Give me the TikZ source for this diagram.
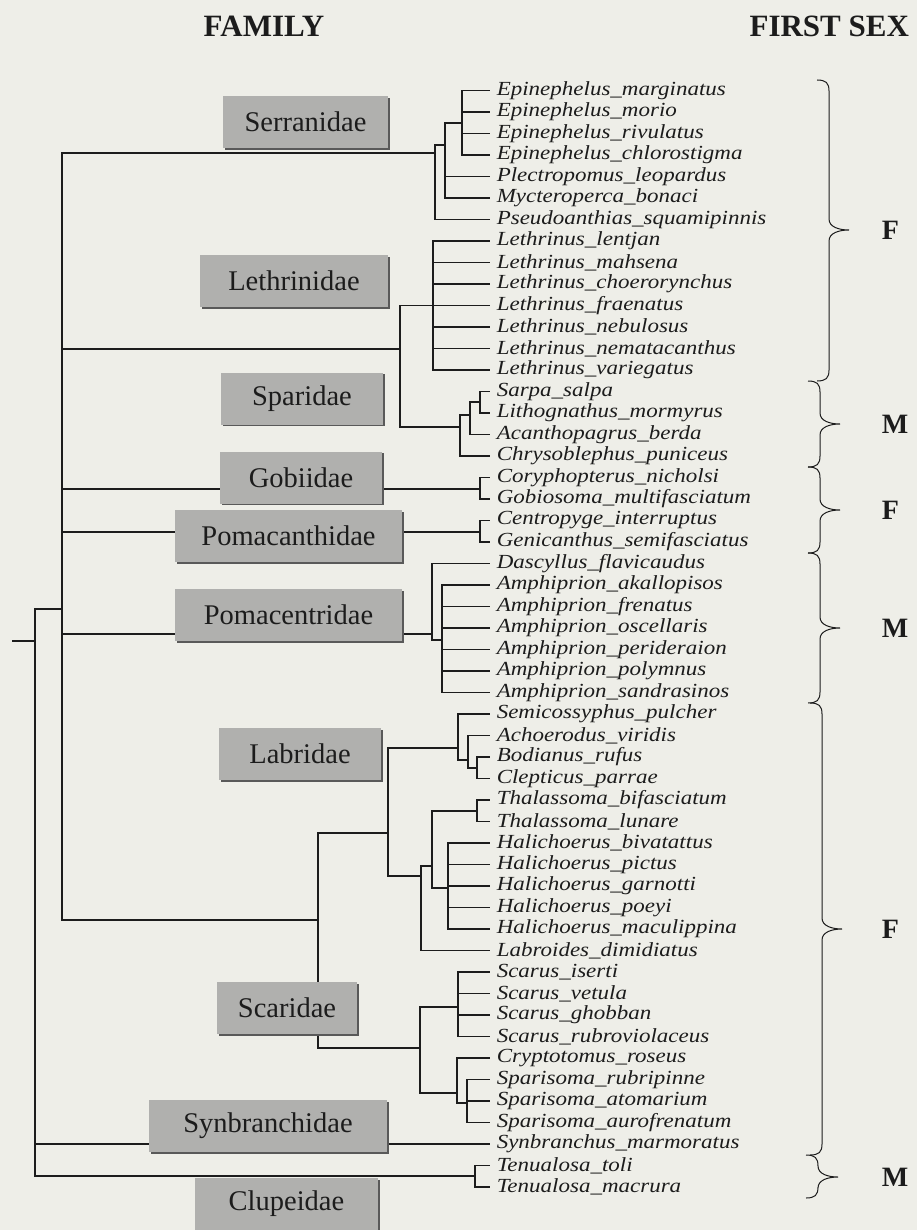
\documentclass[tikz,border=0pt]{standalone}
\usepackage{fontspec}
\setmainfont{Liberation Serif}
\newfontfamily\leaffont[FakeStretch=1.15]{Liberation Serif}
\usepackage{tikz}
\usetikzlibrary{shadows}

\definecolor{paper}{RGB}{238,238,232}
\definecolor{boxgray}{RGB}{176,176,174}
\definecolor{ink}{RGB}{28,28,28}

%% curly brace: top y, tip y, bottom y, x of the long stroke
\newcommand{\SexBrace}[4]{%
  \draw[brace] (#4-12, #1) .. controls (#4-3, #1) and (#4, #1+3) .. (#4, #1+11)
    -- (#4, #2-11) .. controls (#4, #2-3) and (#4+10, #2) .. (#4+20, #2)
    .. controls (#4+10, #2) and (#4, #2+3) .. (#4, #2+11)
    -- (#4, #3-11) .. controls (#4, #3-3) and (#4-3, #3) .. (#4-12, #3);}

\begin{document}
\begin{tikzpicture}[x=1pt, y=-1pt, line width=1.5pt, ink,
  leaf/.style={anchor=west, inner xsep=6pt, inner ysep=0pt,
    font=\leaffont\itshape\fontsize{20}{20}\selectfont},
  fam/.style={fill=boxgray, minimum height=52pt, inner sep=0pt,
    font=\fontsize{28.5}{30}\selectfont,
    drop shadow={shadow xshift=1.6pt, shadow yshift=-1.6pt, fill=black!65, opacity=1}},
  head/.style={font=\bfseries\fontsize{31}{31}\selectfont},
  sexlabel/.style={anchor=west, inner sep=0pt, font=\bfseries\fontsize{28}{28}\selectfont},
  brace/.style={line width=1pt}]

  \fill[paper] (0,0) rectangle (917,1230);
  \useasboundingbox (0,0) rectangle (917,1230);

  \newcommand\LX{490}
  \newcommand\DY{21.5}

  %% species, top to bottom
  \foreach \name/\txt [count=\i from 0] in {
    mar/Epinephelus\_marginatus, mor/Epinephelus\_morio, riv/Epinephelus\_rivulatus,
    chl/Epinephelus\_chlorostigma, ple/Plectropomus\_leopardus, myc/Mycteroperca\_bonaci,
    pse/Pseudoanthias\_squamipinnis, len/Lethrinus\_lentjan, mah/Lethrinus\_mahsena,
    cho/Lethrinus\_choerorynchus, fra/Lethrinus\_fraenatus, neb/Lethrinus\_nebulosus,
    nem/Lethrinus\_nematacanthus, var/Lethrinus\_variegatus, sar/Sarpa\_salpa,
    lit/Lithognathus\_mormyrus, aca/Acanthopagrus\_berda, chr/Chrysoblephus\_puniceus,
    cor/Coryphopterus\_nicholsi, gob/Gobiosoma\_multifasciatum, cen/Centropyge\_interruptus,
    gen/Genicanthus\_semifasciatus, das/Dascyllus\_flavicaudus, aka/Amphiprion\_akallopisos,
    fre/Amphiprion\_frenatus, osc/Amphiprion\_oscellaris, per/Amphiprion\_perideraion,
    pol/Amphiprion\_polymnus, san/Amphiprion\_sandrasinos, sem/Semicossyphus\_pulcher,
    ach/Achoerodus\_viridis, bod/Bodianus\_rufus, cle/Clepticus\_parrae,
    tbi/Thalassoma\_bifasciatum, tlu/Thalassoma\_lunare, hbi/Halichoerus\_bivatattus,
    hpi/Halichoerus\_pictus, hga/Halichoerus\_garnotti, hpo/Halichoerus\_poeyi,
    hma/Halichoerus\_maculippina, lab/Labroides\_dimidiatus, sis/Scarus\_iserti,
    sve/Scarus\_vetula, sgh/Scarus\_ghobban, sru/Scarus\_rubroviolaceus,
    cry/Cryptotomus\_roseus, spr/Sparisoma\_rubripinne, sat/Sparisoma\_atomarium,
    sau/Sparisoma\_aurofrenatum, syn/Synbranchus\_marmoratus, tto/Tenualosa\_toli,
    tma/Tenualosa\_macrura}
    \node[leaf] (\name) at (\LX, {90.5+\DY*\i}) {\txt};

  %% inner nodes
  \coordinate (root)    at (12, 641);
  \coordinate (nRoot)   at (35, 641);
  \coordinate (nPerc)   at (62, 609);
  \coordinate (nSer)    at (435, 153);
  \coordinate (nSer2)   at (445, 145);
  \coordinate (nEpi)    at (462, 123);
  \coordinate (nLS)     at (400, 349);
  \coordinate (nLet)    at (433, 305.5);
  \coordinate (nSpa)    at (460, 427);
  \coordinate (nSpa2)   at (470, 415);
  \coordinate (nSpa3)   at (480, 402);
  \coordinate (nGob)    at (480, 489);
  \coordinate (nPca)    at (480, 532);
  \coordinate (nPce)    at (432, 634);
  \coordinate (nAmp)    at (442, 640);
  \coordinate (nLabSca) at (318, 920);
  \coordinate (nLab)    at (388, 833);
  \coordinate (nLab1)   at (458, 748);
  \coordinate (nLab1b)  at (468, 760);
  \coordinate (nLab1c)  at (477, 768);
  \coordinate (nLab2)   at (421, 876);
  \coordinate (nThaHal) at (432, 866);
  \coordinate (nTha)    at (477, 811);
  \coordinate (nHal)    at (448, 888);
  \coordinate (nSca)    at (420, 1048);
  \coordinate (nScarus) at (458, 1007);
  \coordinate (nSpar)   at (457, 1093);
  \coordinate (nSpar2)  at (467, 1103);
  \coordinate (nClu)    at (475, 1176);

  %% branches
  \draw (root) -- (nRoot);
  \draw (nRoot) |- (nPerc);
  \draw (nRoot) |- (syn.west);
  \draw (nRoot) |- (nClu);
  \foreach \c in {nSer,nLS,nGob,nPca,nPce,nLabSca} \draw (nPerc) |- (\c);

  \draw (nSer) |- (nSer2);  \draw (nSer) |- (pse.west);
  \draw (nSer2) |- (nEpi);
  \foreach \c in {ple,myc} \draw (nSer2) |- (\c.west);
  \foreach \c in {mar,mor,riv,chl} \draw (nEpi) |- (\c.west);

  \draw (nLS) |- (nLet);  \draw (nLS) |- (nSpa);
  \foreach \c in {len,mah,cho,fra,neb,nem,var} \draw (nLet) |- (\c.west);
  \draw (nSpa) |- (nSpa2);  \draw (nSpa) |- (chr.west);
  \draw (nSpa2) |- (nSpa3); \draw (nSpa2) |- (aca.west);
  \foreach \c in {sar,lit} \draw (nSpa3) |- (\c.west);

  \foreach \c in {cor,gob} \draw (nGob) |- (\c.west);
  \foreach \c in {cen,gen} \draw (nPca) |- (\c.west);

  \draw (nPce) |- (das.west);  \draw (nPce) |- (nAmp);
  \foreach \c in {aka,fre,osc,per,pol,san} \draw (nAmp) |- (\c.west);

  \draw (nLabSca) |- (nLab);  \draw (nLabSca) |- (nSca);
  \draw (nLab) |- (nLab1);    \draw (nLab) |- (nLab2);
  \draw (nLab1) |- (sem.west);  \draw (nLab1) |- (nLab1b);
  \draw (nLab1b) |- (ach.west); \draw (nLab1b) |- (nLab1c);
  \foreach \c in {bod,cle} \draw (nLab1c) |- (\c.west);
  \draw (nLab2) |- (nThaHal);  \draw (nLab2) |- (lab.west);
  \draw (nThaHal) |- (nTha);   \draw (nThaHal) |- (nHal);
  \foreach \c in {tbi,tlu} \draw (nTha) |- (\c.west);
  \foreach \c in {hbi,hpi,hga,hpo,hma} \draw (nHal) |- (\c.west);

  \draw (nSca) |- (nScarus);  \draw (nSca) |- (nSpar);
  \foreach \c in {sis,sve,sgh,sru} \draw (nScarus) |- (\c.west);
  \draw (nSpar) |- (cry.west);  \draw (nSpar) |- (nSpar2);
  \foreach \c in {spr,sat,sau} \draw (nSpar2) |- (\c.west);

  \foreach \c in {tto,tma} \draw (nClu) |- (\c.west);

  %% family boxes
  \node[fam, minimum width=165pt] (serr) at (305.5, 122)  {Serranidae};
  \node[fam, minimum width=188pt] (leth) at (294, 281)    {Lethrinidae};
  \node[fam, minimum width=162pt] (spar) at (302, 398.5)  {Sparidae};
  \node[fam, minimum width=162pt] (gobi) at (301, 477.5)  {Gobiidae};
  \node[fam, minimum width=227pt] (pcan) at (288.5, 536)  {Pomacanthidae};
  \node[fam, minimum width=227pt] (pcen) at (288.5, 615)  {Pomacentridae};
  \node[fam, minimum width=162pt] (labr) at (300, 754)    {Labridae};
  \node[fam, minimum width=140pt] (scar) at (287, 1008)   {Scaridae};
  \node[fam, minimum width=238pt] (synb) at (268, 1126)   {Synbranchidae};
  \node[fam, minimum width=183pt] (clup) at (286.5, 1204) {Clupeidae};

  %% headers
  \node[head] (family) at (264, 26) {FAMILY};
  \node[head, anchor=east] (firstsex) at (913, 26) {FIRST SEX};

  %% first sex braces
  \SexBrace{80}{230}{381}{829}
  \SexBrace{381}{424}{467}{820}
  \SexBrace{467}{510}{553}{820}
  \SexBrace{553}{628}{703}{820}
  \SexBrace{703}{929}{1155}{822}
  \SexBrace{1155}{1177}{1198}{818}

  \node[sexlabel] (sex1) at (881, 230)  {F};
  \node[sexlabel] (sex2) at (881, 424)  {M};
  \node[sexlabel] (sex3) at (881, 510)  {F};
  \node[sexlabel] (sex4) at (881, 628)  {M};
  \node[sexlabel] (sex5) at (881, 929)  {F};
  \node[sexlabel] (sex6) at (881, 1177) {M};
\end{tikzpicture}
\end{document}
